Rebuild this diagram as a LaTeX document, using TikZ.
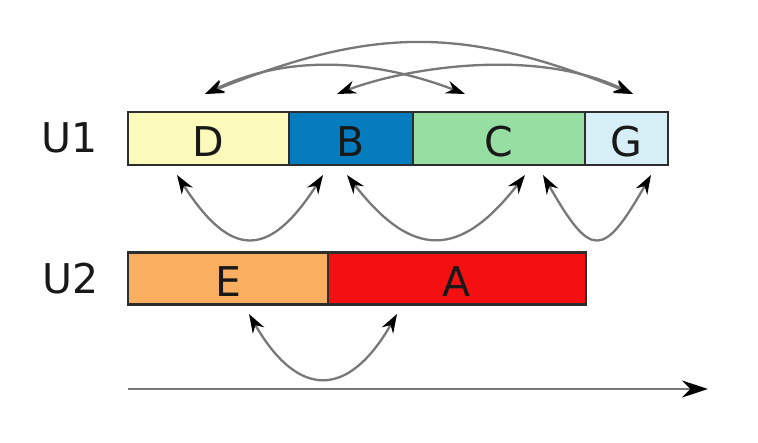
\documentclass[tikz,border=0pt]{standalone}
\usepackage{fontspec}
\setmainfont{DejaVu Sans}
\usetikzlibrary{arrows.meta}
\definecolor{cD}{RGB}{252,250,186}
\definecolor{cB}{RGB}{4,124,190}
\definecolor{cC}{RGB}{150,222,162}
\definecolor{cG}{RGB}{214,238,246}
\definecolor{cE}{RGB}{250,174,96}
\definecolor{cA}{RGB}{244,16,16}
\definecolor{barline}{RGB}{45,45,45}
\definecolor{arcgrey}{RGB}{120,120,120}
\definecolor{txt}{RGB}{25,25,25}
\begin{document}
\begin{tikzpicture}[x=1pt,y=-1pt,
  seg/.style={draw=barline, line width=2.4pt, inner sep=0pt,
    text height=36pt, text depth=0pt, text=txt,
    font=\fontsize{41}{41}\selectfont},
  rowlabel/.style={inner sep=0pt, text=txt, font=\fontsize{41}{41}\selectfont},
  tipk/.tip={Stealth[length=19pt,width=13pt,color=black]},
  link/.style={draw=arcgrey, line width=2.3pt, tipk-tipk},
  axisline/.style={draw=arcgrey, line width=2.8pt, -{Stealth[length=26pt,width=17pt,color=black]}}
]
\useasboundingbox (0,0) rectangle (758,442);

% row labels
\node[rowlabel] (u1) at (70,138) {U1};
\node[rowlabel] (u2) at (71,279) {U2};

% U1 row
\node[seg, fill=cD, minimum width=161pt, minimum height=53pt] (D) at (208.5,138.5) {D};
\node[seg, fill=cB, minimum width=124pt, minimum height=53pt] (B) at (351,138.5) {B};
\node[seg, fill=cC, minimum width=172pt, minimum height=53pt] (C) at (499,138.5) {C};
\node[seg, fill=cG, minimum width=83pt, minimum height=53pt] (G) at (626.5,138.5) {G};

% U2 row
\node[seg, fill=cE, minimum width=200pt, minimum height=52pt] (E) at (228,278.5) {E};
\node[seg, fill=cA, minimum width=258pt, minimum height=52pt] (A) at (457,278.5) {A};

% arc end points
\coordinate (Dt) at (205,94);
\coordinate (Bt) at (337,94);
\coordinate (Ct) at (465,94);
\coordinate (Gt) at (633,94);

\coordinate (Db) at (177,175);
\coordinate (Bbl) at (323,175);
\coordinate (Bbr) at (347,175);
\coordinate (Cbl) at (525,175);
\coordinate (Cbr) at (543,175);
\coordinate (Gb) at (651,175);

\coordinate (Eb) at (249,314);
\coordinate (Ab) at (397,314);

\coordinate (ax0) at (128,389);
\coordinate (ax1) at (708,389);

% top arcs
\draw[link] (Dt) .. controls (375,26) and (463,26) .. (Gt);
\draw[link] (Dt) .. controls (305,46) and (400,69) .. (Ct);
\draw[link] (Bt) .. controls (402,69) and (533,46) .. (Gt);

% arcs below U1
\draw[link] (Db) .. controls (231,259) and (269,259) .. (Bbl);
\draw[link] (Bbr) .. controls (412,259) and (460,259) .. (Cbl);
\draw[link] (Cbr) .. controls (591,259) and (603,259) .. (Gb);

% arc below U2
\draw[link] (Eb) .. controls (298,399) and (348,399) .. (Ab);

% time axis
\draw[axisline] (ax0) -- (ax1);
\end{tikzpicture}
\end{document}
